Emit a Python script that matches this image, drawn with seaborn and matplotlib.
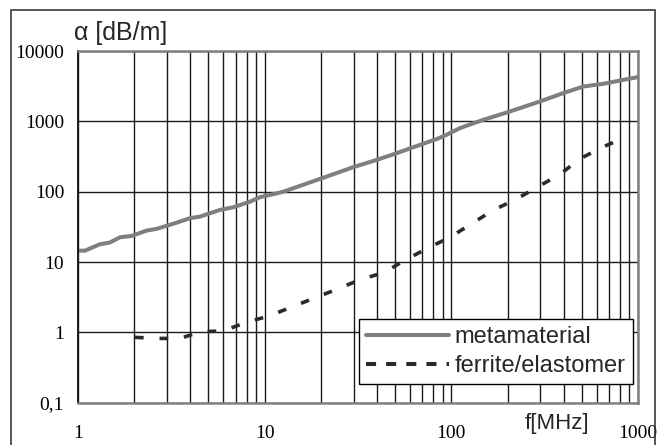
import matplotlib
matplotlib.use("Agg")
import matplotlib.pyplot as plt
from matplotlib.lines import Line2D
from matplotlib.patches import Rectangle
from matplotlib.ticker import FixedLocator, FixedFormatter, NullFormatter
import numpy as np
import pandas as pd
import seaborn as sns

# Attenuation of the metamaterial absorber vs. frequency
meta_freq = [1.0, 1.09, 1.31, 1.48, 1.68, 1.94, 2.33, 2.64, 3.38, 3.98, 4.5, 5.76,
             6.79, 8.34, 9.44, 10.7, 12.6, 19.8, 29.8, 39.8, 51, 67.9, 83.4, 94.3,
             111, 148, 198, 298, 398, 509, 651, 800, 1000]
meta_alpha = [14.5, 14.5, 17.9, 18.9, 22.5, 23.5, 28, 29.6, 36.3, 42, 44.2, 55,
              60, 72, 83.5, 90, 100, 152, 223, 283, 353, 463, 559, 643,
              800, 1050, 1334, 1915, 2520, 3127, 3413, 3800, 4260]

# Attenuation of the ferrite/elastomer reference material
ferr_freq = [2.02, 2.64, 3.52, 4.54, 6.0, 8.0, 10.7, 13.8, 18.4, 23.8, 33, 43.5,
             56, 73.8, 98.3, 128, 166, 224, 289, 385, 488, 646, 833]
ferr_alpha = [0.85, 0.82, 0.82, 1.02, 1.05, 1.39, 1.73, 2.27, 3.06, 4.0, 5.7, 7.06,
              10.5, 15.5, 22.5, 34.8, 53.8, 79, 116, 179, 293, 430, 577]

series_names = ["metamaterial", "ferrite/elastomer"]
x_ticks = [1, 10, 100, 1000]
x_tick_labels = ["1", "10", "100", "1000"]
y_ticks = [0.1, 1, 10, 100, 1000, 10000]
y_tick_labels = ["0,1", "1", "10", "100", "1000", "10000"]

df = pd.concat([
    pd.DataFrame({"f": meta_freq, "alpha": meta_alpha, "material": series_names[0]}),
    pd.DataFrame({"f": ferr_freq, "alpha": ferr_alpha, "material": series_names[1]}),
], ignore_index=True)

sns.set_style("white")
plt.rcParams["font.family"] = ["Liberation Sans", "DejaVu Sans"]

W, H = 659, 445
fig = plt.figure(figsize=(W / 100, H / 100), dpi=100)
ax = fig.add_axes([78 / W, 1 - 402.7 / H, 560 / W, 351.7 / H])

colors = {series_names[0]: "#7f7f7f", series_names[1]: "#2b2b2b"}
sns.lineplot(data=df, x="f", y="alpha", hue="material", style="material",
             palette=colors, dashes={series_names[0]: "", series_names[1]: (2.4, 4.4)},
             sort=False, estimator=None, ax=ax, legend=False)
for line, lw in zip(ax.get_lines(), [2.9, 2.6]):
    line.set_linewidth(lw)
    line.set_solid_capstyle("butt")
    line.set_dash_capstyle("butt")

ax.set_xscale("log")
ax.set_yscale("log")
ax.set_xlim(1, 1000)
ax.set_ylim(0.1, 10000)

# Grid: every decade horizontally, every 1..9 step vertically
minor_x = [m * 10 ** d for d in range(0, 3) for m in range(2, 10)]
ax.xaxis.set_major_locator(FixedLocator(x_ticks))
ax.xaxis.set_major_formatter(FixedFormatter(x_tick_labels))
ax.xaxis.set_minor_locator(FixedLocator(minor_x))
ax.xaxis.set_minor_formatter(NullFormatter())
ax.yaxis.set_major_locator(FixedLocator(y_ticks))
ax.yaxis.set_major_formatter(FixedFormatter(y_tick_labels))
ax.yaxis.set_minor_locator(FixedLocator([]))
ax.grid(True, which="major", axis="y", color="#1a1a1a", linewidth=1.0)
ax.grid(True, which="both", axis="x", color="#1a1a1a", linewidth=1.0)
ax.set_axisbelow(True)

ax.tick_params(axis="both", which="both", length=0)
ax.tick_params(axis="x", pad=16)
ax.tick_params(axis="y", pad=10)
for lab in ax.get_xticklabels() + ax.get_yticklabels():
    lab.set_fontfamily(["Liberation Serif", "DejaVu Serif"])
    lab.set_fontsize(14)
    lab.set_color("black")

ax.set_xlabel("")
ax.set_ylabel("")
for side in ["top", "right", "bottom"]:
    ax.spines[side].set_color("#808080")
    ax.spines[side].set_linewidth(1.8)
ax.spines["left"].set_color("#1a1a1a")
ax.spines["left"].set_linewidth(1.4)

fig.text(74 / W, 1 - 33 / H, "\u03b1 [dB/m]", fontsize=18, ha="left", va="center")
fig.text(557 / W, 1 - 424 / H, "f[MHz]", fontsize=16, ha="center", va="center")

handles = [
    Line2D([], [], color=colors[series_names[0]], linewidth=2.9),
    Line2D([], [], color=colors[series_names[1]], linewidth=2.9,
           dashes=(2.5, 2.5), dash_capstyle="butt"),
]
leg = ax.legend(handles, series_names, loc="lower right",
                bbox_to_anchor=(0.991, 0.053), borderaxespad=0,
                fontsize=17, frameon=True, fancybox=False, shadow=False,
                handlelength=3.5, handletextpad=0.25, labelspacing=0.3,
                borderpad=0.3)
leg.get_frame().set_edgecolor("black")
leg.get_frame().set_linewidth(1.0)
leg.get_frame().set_facecolor("white")
leg.get_frame().set_alpha(1)

# Outer chart frame
fig.patches.append(Rectangle((11 / W, -0.02), 644 / W, 1.02 - 10 / H,
                             transform=fig.transFigure, fill=False,
                             edgecolor="#3a3a3a", linewidth=1.2))

fig.savefig("out.png", dpi=100, facecolor="white")
